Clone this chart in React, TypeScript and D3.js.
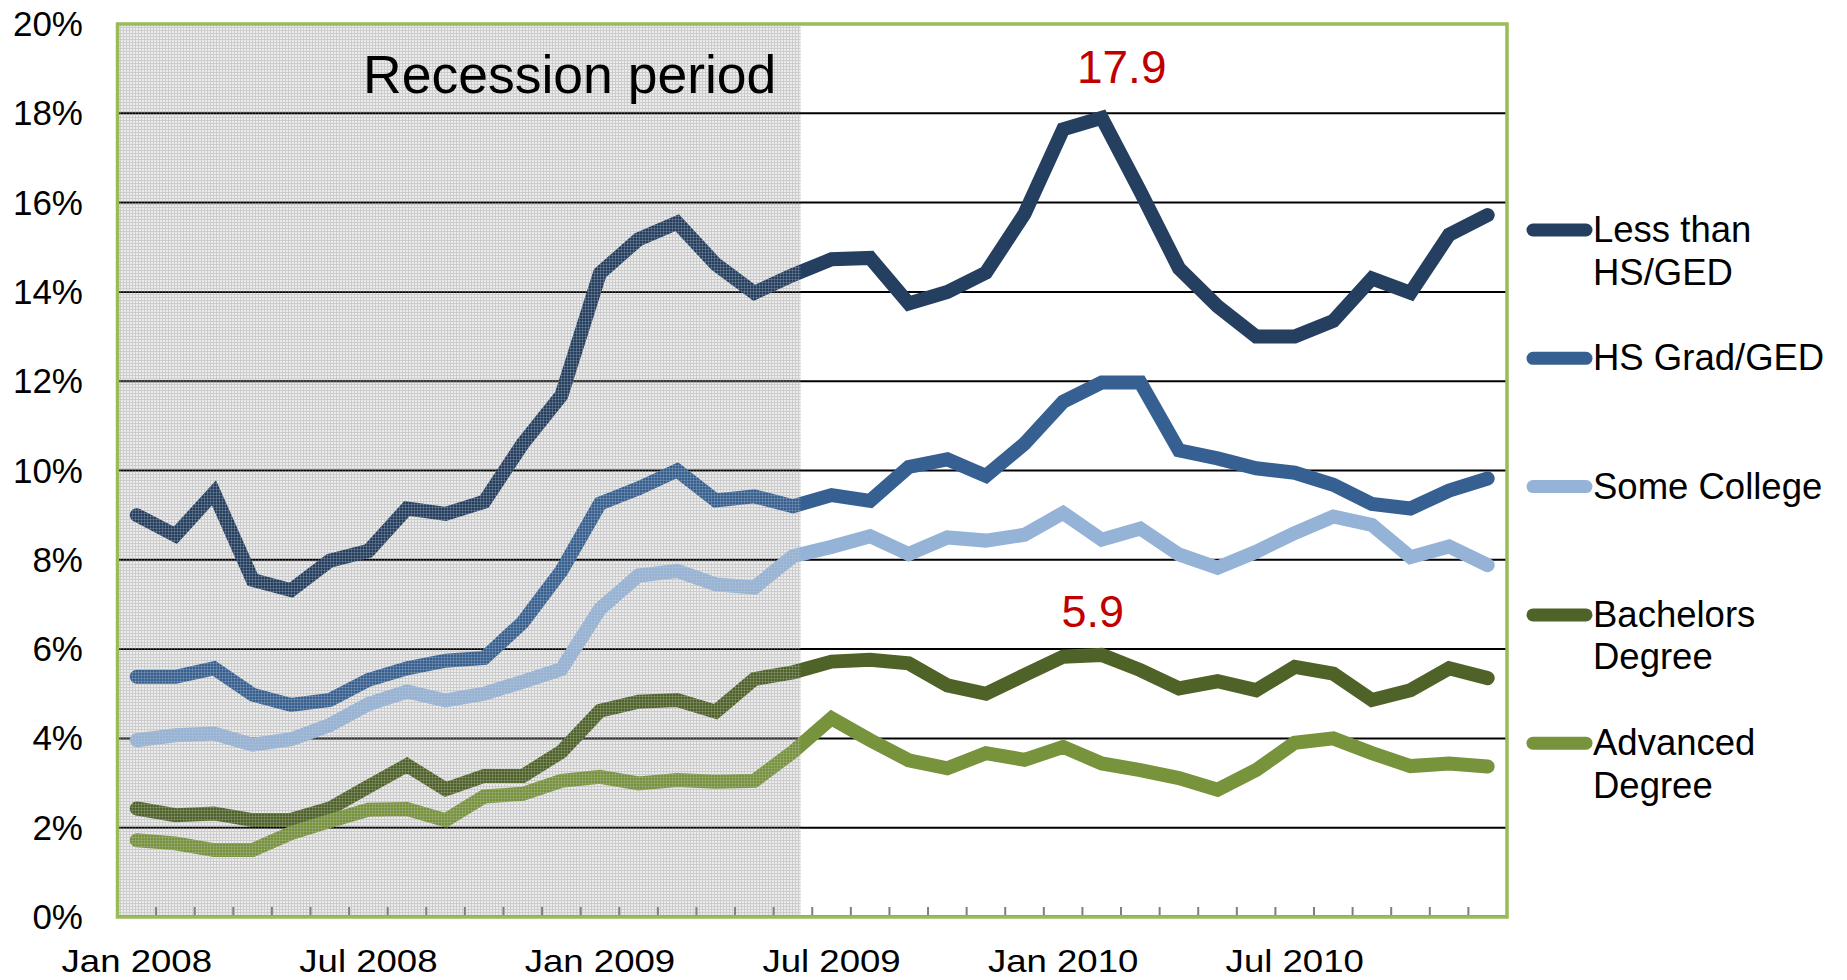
import React from "react";
import * as d3 from "d3";

// months Jan 2008 .. Dec 2010
const months: string[] = [];
for (let y = 2008; y <= 2010; y++) {
  ["Jan", "Feb", "Mar", "Apr", "May", "Jun", "Jul", "Aug", "Sep", "Oct", "Nov", "Dec"].forEach((m) =>
    months.push(`${m} ${y}`)
  );
}
const tickLabels = ["Jan 2008", "Jul 2008", "Jan 2009", "Jul 2009", "Jan 2010", "Jul 2010"];
const yTicks = [0, 2, 4, 6, 8, 10, 12, 14, 16, 18, 20];

const lessThanHS = [
  9.0, 8.55, 9.5, 7.55, 7.32, 7.98, 8.2, 9.15, 9.03, 9.3, 10.6, 11.68,
  14.42, 15.18, 15.55, 14.62, 13.98, 14.38, 14.73, 14.76, 13.74, 14.0, 14.43, 15.75,
  17.64, 17.9, 16.25, 14.53, 13.68, 13.0, 13.0, 13.35, 14.3, 13.98, 15.28, 15.72,
];
const hsGrad = [
  5.38, 5.38, 5.57, 4.98, 4.75, 4.86, 5.31, 5.57, 5.74, 5.8, 6.6, 7.75,
  9.26, 9.6, 10.0, 9.33, 9.42, 9.2, 9.45, 9.32, 10.08, 10.25, 9.88, 10.6,
  11.54, 11.97, 11.97, 10.45, 10.27, 10.05, 9.95, 9.68, 9.25, 9.15, 9.55, 9.82,
];
const someCollege = [
  3.96, 4.07, 4.11, 3.86, 3.98, 4.3, 4.77, 5.05, 4.85, 5.0, 5.27, 5.55,
  6.9, 7.65, 7.75, 7.45, 7.38, 8.08, 8.29, 8.53, 8.13, 8.5, 8.43, 8.56,
  9.05, 8.45, 8.7, 8.12, 7.82, 8.18, 8.6, 8.97, 8.78, 8.06, 8.3, 7.88,
];
const bachelors = [
  2.43, 2.28, 2.32, 2.17, 2.18, 2.43, 2.92, 3.4, 2.86, 3.16, 3.16, 3.7,
  4.62, 4.82, 4.86, 4.6, 5.33, 5.48, 5.72, 5.76, 5.68, 5.19, 5.0, 5.42,
  5.83, 5.87, 5.53, 5.12, 5.28, 5.08, 5.6, 5.45, 4.86, 5.08, 5.57, 5.35,
];
const advanced = [
  1.72, 1.65, 1.5, 1.5, 1.88, 2.15, 2.4, 2.42, 2.17, 2.7, 2.76, 3.05,
  3.14, 2.99, 3.07, 3.03, 3.05, 3.7, 4.45, 3.96, 3.51, 3.33, 3.67, 3.52,
  3.81, 3.44, 3.29, 3.11, 2.85, 3.29, 3.9, 4.0, 3.67, 3.38, 3.44, 3.37,
];

const seriesNames = [["Less than", "HS/GED"], ["HS Grad/GED"], ["Some College"], ["Bachelors", "Degree"], ["Advanced", "Degree"]];
const seriesValues = [lessThanHS, hsGrad, someCollege, bachelors, advanced];
const seriesColors = ["#243F60", "#366092", "#95B3D7", "#4F6228", "#77933C"];

const recessionEnd = "Jun 2009";
const peakMonth = "Feb 2010";

const font = "'Liberation Sans', Arial, sans-serif";

export default function App() {
  const left = 117.5, right = 1507, top = 24, bottom = 917;

  const x = d3.scaleBand<string>().domain(months).range([left, right]).padding(0);
  const bw = x.bandwidth();
  const cx = (m: string) => (x(m) as number) + bw / 2;
  const y = d3.scaleLinear().domain([0, 20]).range([bottom, top]);

  const line = d3
    .line<number>()
    .x((_, i) => cx(months[i]))
    .y((d) => y(d));

  const shadeRight = cx(recessionEnd) + bw * 0.2;
  const peakIdx = months.indexOf(peakMonth);

  return (
    <svg width={1847} height={980} style={{ position: "absolute", left: 0, top: 0, background: "#fff" }} fontFamily={font}>
      <defs>
        <pattern id="shade" width={3} height={3} patternUnits="userSpaceOnUse">
          <rect width={3} height={3} fill="#ececec" />
          <rect width={3} height={1} fill="#cfcfcf" />
          <rect width={1} height={3} fill="#cfcfcf" />
        </pattern>
        <pattern id="shadeTop" width={3} height={3} patternUnits="userSpaceOnUse">
          <rect width={3} height={1} fill="rgba(200,200,200,0.25)" />
          <rect width={1} height={3} fill="rgba(200,200,200,0.25)" />
        </pattern>
      </defs>

      {/* recession background */}
      <rect x={left} y={top} width={shadeRight - left} height={bottom - top} fill="url(#shade)" />

      {/* gridlines */}
      {yTicks.filter((t) => t > 0 && t < 20).map((t) => (
        <line key={t} x1={left} x2={right} y1={y(t)} y2={y(t)} stroke="#000" strokeWidth={2} />
      ))}

      {/* series */}
      {seriesValues.map((vals, i) => (
        <path key={i} d={line(vals) || ""} fill="none" stroke={seriesColors[i]} strokeWidth={14}
          strokeLinecap="round" strokeLinejoin="miter" strokeMiterlimit={3} />
      ))}

      {/* faint texture over the lines in the recession band */}
      <rect x={left} y={top} width={shadeRight - left} height={bottom - top} fill="url(#shadeTop)" />

      {/* tick marks */}
      {months.slice(1).map((m) => (
        <line key={m} x1={x(m)} x2={x(m)} y1={bottom - 10} y2={bottom} stroke="#7f7f7f" strokeWidth={2} />
      ))}
      <line x1={left} x2={right} y1={bottom - 1} y2={bottom - 1} stroke="#7f7f7f" strokeWidth={2} />

      {/* frame */}
      <rect x={left} y={top} width={right - left} height={bottom - top} fill="none" stroke="#9BBB59" strokeWidth={3.5} />

      {/* y labels */}
      {yTicks.map((t) => (
        <text key={t} x={83} y={y(t) + 12} textAnchor="end" fontSize={35} fill="#000">{`${t}%`}</text>
      ))}

      {/* x labels */}
      {tickLabels.map((m) => (
        <text key={m} transform={`translate(${cx(m)},972) scale(1.18,1)`} textAnchor="middle" fontSize={31} fill="#000">{m}</text>
      ))}

      <text x={363} y={93} fontSize={53.5} fill="#000">Recession period</text>

      <text x={cx(peakMonth) + 20} y={y(lessThanHS[peakIdx]) - 35} textAnchor="middle" fontSize={46} fill="#C00000">
        {lessThanHS[peakIdx].toFixed(1)}
      </text>
      <text x={cx(peakMonth) - 9} y={y(bachelors[peakIdx]) - 28} textAnchor="middle" fontSize={45} fill="#C00000">
        {bachelors[peakIdx].toFixed(1)}
      </text>

      {/* legend */}
      {seriesNames.map((lines, i) => {
        const ly = 230 + i * 128.3;
        return (
          <g key={i}>
            <line x1={1533} x2={1586} y1={ly} y2={ly} stroke={seriesColors[i]} strokeWidth={13} strokeLinecap="round" />
            {lines.map((s, j) => (
              <text key={j} x={1593} y={ly + 12 + j * 42.5} fontSize={36.5} fill="#000">{s}</text>
            ))}
          </g>
        );
      })}
    </svg>
  );
}
